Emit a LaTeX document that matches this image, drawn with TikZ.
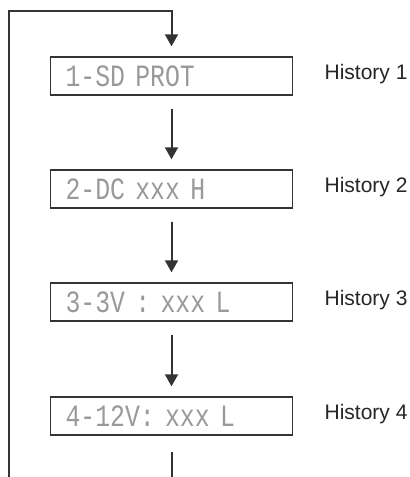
\documentclass[tikz,border=0pt]{standalone}
\usepackage{fontspec}
\setmainfont{Liberation Sans}
\newfontfamily\lcdfont[FakeStretch=0.8]{Liberation Mono}
\usetikzlibrary{arrows.meta, positioning}

\begin{document}
\begin{tikzpicture}[
    x=0.5pt, y=-0.5pt,
    lcd/.style={rectangle, draw=black!80, line width=0.7pt, minimum height=19pt, text width=106pt, inner xsep=7.5pt, inner ysep=0pt, align=left, font=\lcdfont\fontsize{15.5}{17}\selectfont, text=black!40},
    hist/.style={inner sep=0pt, font=\fontsize{10.5}{12}\selectfont, text=black!85, yshift=1.2pt},
    arr/.style={-{Triangle[length=6pt, width=6.5pt]}, draw=black!80, line width=1pt},
    wire/.style={draw=black!80, line width=1pt}
]
\useasboundingbox (0,0) rectangle (410,477);

%% ── Display boxes (column x=171.5) ───────────────────────────────────────────
\node[lcd] (box1) at (171.5, 76)  {1-SD PROT};
\node[lcd] (box2) at (171.5, 189) {2-DC xxx H};
\node[lcd] (box3) at (171.5, 302) {3-3V : xxx L};
\node[lcd] (box4) at (171.5, 416) {4-12V: xxx L};

%% ── History labels ───────────────────────────────────────────────────────────
\node[hist, right=15.5pt of box1] (hist1) {History 1};
\node[hist, right=15.5pt of box2] (hist2) {History 2};
\node[hist, right=15.5pt of box3] (hist3) {History 3};
\node[hist, right=15.5pt of box4] (hist4) {History 4};

%% ── Loop back to the top ─────────────────────────────────────────────────────
\coordinate (loopbot) at (9, 477);
\coordinate (looptop) at (9, 11);
\draw[arr, shorten >=5pt] (loopbot) -- (looptop) -| (box1.north);

%% ── Step chain ───────────────────────────────────────────────────────────────
\draw[arr, shorten <=6.5pt, shorten >=5pt] (box1) -- (box2);
\draw[arr, shorten <=6.5pt, shorten >=5pt] (box2) -- (box3);
\draw[arr, shorten <=6.5pt, shorten >=5pt] (box3) -- (box4);
\draw[wire, shorten <=8pt] (box4.south) -- (box4.south |- loopbot);

\end{tikzpicture}
\end{document}
